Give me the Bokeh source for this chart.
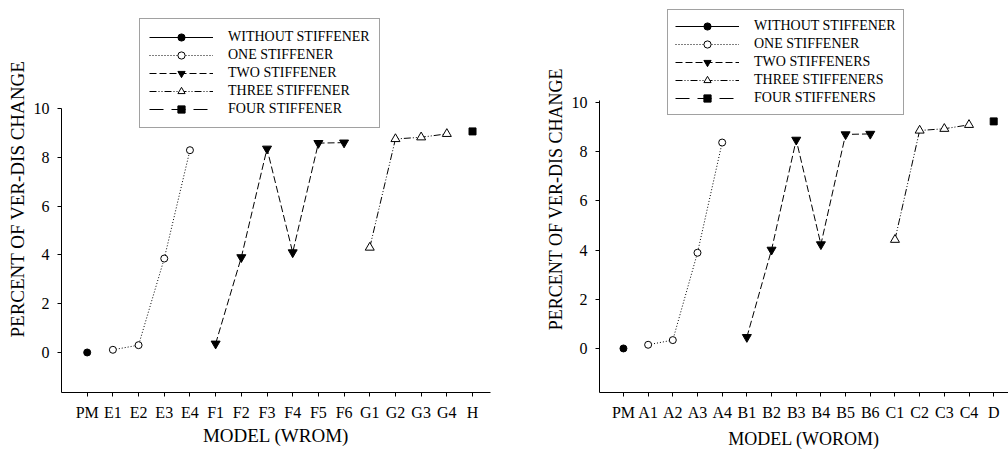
from bokeh.plotting import figure
from bokeh.layouts import row
from bokeh.models import FixedTicker, Legend, LegendItem, Range1d
from bokeh.embed import file_html
from bokeh.resources import INLINE

FONT = "Liberation Serif"

# ---------------- data: left panel (WROM) ----------------
wrom_models = ["PM", "E1", "E2", "E3", "E4", "F1", "F2", "F3", "F4", "F5", "F6",
               "G1", "G2", "G3", "G4", "H"]
wrom_without_models = ["PM"]
wrom_without = [0.0]
wrom_one_models = ["E1", "E2", "E3", "E4"]
wrom_one = [0.11, 0.30, 3.85, 8.29]
wrom_two_models = ["F1", "F2", "F3", "F4", "F5", "F6"]
wrom_two = [0.36, 3.90, 8.35, 4.10, 8.58, 8.60]
wrom_three_models = ["G1", "G2", "G3", "G4"]
wrom_three = [4.30, 8.75, 8.82, 8.96]
wrom_four_models = ["H"]
wrom_four = [9.06]
wrom_legend = ["WITHOUT STIFFENER", "ONE STIFFENER", "TWO STIFFENER",
               "THREE STIFFENER", "FOUR STIFFENER"]

# ---------------- data: right panel (WOROM) ----------------
worom_models = ["PM", "A1", "A2", "A3", "A4", "B1", "B2", "B3", "B4", "B5", "B6",
                "C1", "C2", "C3", "C4", "D"]
worom_without_models = ["PM"]
worom_without = [0.0]
worom_one_models = ["A1", "A2", "A3", "A4"]
worom_one = [0.15, 0.34, 3.89, 8.37]
worom_two_models = ["B1", "B2", "B3", "B4", "B5", "B6"]
worom_two = [0.46, 4.01, 8.48, 4.23, 8.70, 8.72]
worom_three_models = ["C1", "C2", "C3", "C4"]
worom_three = [4.42, 8.86, 8.93, 9.09]
worom_four_models = ["D"]
worom_four = [9.23]
worom_legend = ["WITHOUT STIFFENER", "ONE STIFFENER", "TWO STIFFENERS",
                "THREE STIFFENERS", "FOUR STIFFENERS"]

y_ticks = [0, 2, 4, 6, 8, 10]
y_label = "PERCENT OF VER-DIS CHANGE"

# styles: (line_dash, marker, fill_color, size)
STYLES = [
    ("solid", "circle", "black", 7),
    ("1 2", "circle", "white", 7),
    ("7 3", "inverted_triangle", "black", 9),
    ("7 2 1 2 1 2", "triangle", "white", 9),
    ("14 8", "square", "black", 7),
]


def make_panel(models, series, labels, xlabel, geom):
    p = figure(width=geom["width"], height=451, output_backend="svg",
               toolbar_location=None,
               x_range=Range1d(*geom["xr"]), y_range=Range1d(*geom["yr"]),
               min_border_left=geom["bl"], min_border_right=geom["br"],
               min_border_top=5, min_border_bottom=57)
    p.outline_line_color = None
    p.xgrid.visible = False
    p.ygrid.visible = False
    p.background_fill_color = "white"
    p.border_fill_color = "white"

    items = []
    for (mods, vals), lab, (dash, marker, fill, size) in zip(series, labels, STYLES):
        xs = [models.index(m) for m in mods]
        lr = p.line(xs, vals, line_color="black", line_width=1, line_dash=dash)
        sr = p.scatter(xs, vals, marker=marker, size=size, fill_color=fill,
                       line_color="black", line_width=1)
        items.append(LegendItem(label=lab, renderers=[lr, sr]))

    leg = Legend(items=items, location=geom["legloc"],
                 label_text_font=FONT, label_text_font_size=geom["legfs"],
                 label_text_color="black",
                 glyph_width=64, glyph_height=geom["gh"], label_height=geom["gh"],
                 spacing=0, padding=geom["pad"], margin=0, label_standoff=15,
                 border_line_color="#444444", border_line_width=1,
                 background_fill_color="white", background_fill_alpha=1.0)
    p.add_layout(leg, "center")

    p.xaxis.ticker = FixedTicker(ticks=list(range(len(models))))
    p.xaxis.major_label_overrides = {i: m for i, m in enumerate(models)}
    p.yaxis.ticker = FixedTicker(ticks=y_ticks)
    p.yaxis.bounds = geom["ybounds"]
    for ax in (p.xaxis, p.yaxis):
        ax.minor_tick_line_color = None
        ax.major_tick_in = 0
        ax.major_tick_out = 4
        ax.axis_line_color = "black"
        ax.major_tick_line_color = "black"
        ax.major_label_text_font = FONT
        ax.major_label_text_font_size = "16px"
        ax.major_label_text_color = "black"
        ax.axis_label_text_font = FONT
        ax.axis_label_text_font_style = "normal"
        ax.axis_label_text_font_size = geom["axfs"]
        ax.axis_label_text_color = "black"
    p.xaxis.axis_label = xlabel
    p.yaxis.axis_label = y_label
    p.xaxis.major_label_standoff = geom["s1"]
    p.xaxis.axis_label_standoff = geom["s2"]
    p.yaxis.major_label_standoff = 8
    p.yaxis.axis_label_standoff = 3
    return p


left = make_panel(
    wrom_models,
    [(wrom_without_models, wrom_without), (wrom_one_models, wrom_one),
     (wrom_two_models, wrom_two), (wrom_three_models, wrom_three),
     (wrom_four_models, wrom_four)],
    wrom_legend, "MODEL (WROM)",
    dict(width=505, xr=(-1.0, 15.7), yr=(-1.64, 14.22), ybounds=(-1.64, 10.0),
         bl=61, br=15, s1=7, s2=1,
         legloc=(78, 264), legfs="14px", gh=18, pad=9, axfs="19px"))

right = make_panel(
    worom_models,
    [(worom_without_models, worom_without), (worom_one_models, worom_one),
     (worom_two_models, worom_two), (worom_three_models, worom_three),
     (worom_four_models, worom_four)],
    worom_legend, "MODEL (WOROM)",
    dict(width=503, xr=(-0.97, 15.6), yr=(-1.79, 13.94), ybounds=(-1.79, 10.08),
         bl=94, br=0, s1=7, s2=5,
         legloc=(68, 277), legfs="14px", gh=18, pad=7, axfs="18px"))

layout = row(left, right)
open("out.html", "w").write(file_html(layout, INLINE))
